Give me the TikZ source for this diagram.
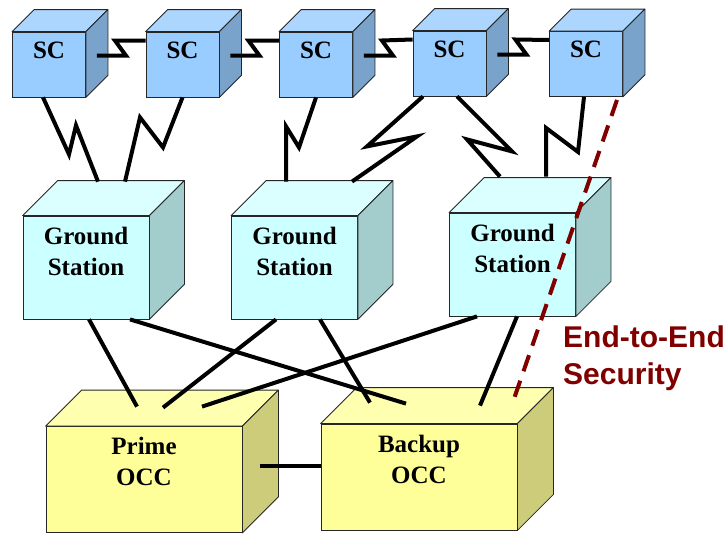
\documentclass[tikz,border=0pt]{standalone}
\usepackage{fontspec}
\setmainfont{Liberation Serif}
\newfontfamily\notefont{Liberation Sans}
\usetikzlibrary{calc}

\definecolor{scfront}{HTML}{99CCFF}
\definecolor{sctop}{HTML}{ADD6FF}
\definecolor{scside}{HTML}{7AA3CC}
\definecolor{gsfront}{HTML}{CCFFFF}
\definecolor{gstop}{HTML}{DBFFFF}
\definecolor{gsside}{HTML}{A3CCCC}
\definecolor{occfront}{HTML}{FFFF99}
\definecolor{occtop}{HTML}{FFFFB0}
\definecolor{occside}{HTML}{CCCC7A}
\definecolor{darkred}{HTML}{800000}

\begin{document}
\begin{tikzpicture}[x=1pt,y=-1pt,
    box/.style={draw=black!85, line width=0.8pt, inner sep=0pt},
    sc/.style={box, fill=scfront, minimum width=73pt, minimum height=65pt},
    gs/.style={box, fill=gsfront, minimum width=126pt, minimum height=103pt},
    occ/.style={box, fill=occfront, minimum width=196pt, minimum height=106pt},
    face/.style={draw=black!85, line width=0.8pt, line join=round},
    title/.style={font=\bfseries\fontsize{25}{31}\selectfont, align=center, inner sep=0pt},
    link/.style={line width=4pt},
    secure/.style={draw=darkred, line width=4pt, dash pattern=on 17pt off 10pt}]
  \useasboundingbox (0,0) rectangle (727,533);

  % front faces
  \node[sc] (sc1) at (49,64.5) {};
  \node[sc] (sc2) at (182.5,64.5) {};
  \node[sc] (sc3) at (316,64.5) {};
  \node[sc] (sc4) at (449.5,63.5) {};
  \node[sc] (sc5) at (586,64) {};
  \node[gs] (gs1) at (86,267.5) {};
  \node[gs] (gs2) at (294.5,267.5) {};
  \node[gs] (gs3) at (512.5,264.5) {};
  \node[occ] (prime) at (144,479.5) {};
  \node[occ] (backup) at (419,477) {};

  % top and side faces
  \foreach \n/\d/\t/\s in {sc1/22/sctop/scside, sc2/22/sctop/scside, sc3/22/sctop/scside,
      sc4/22/sctop/scside, sc5/22/sctop/scside, gs1/35/gstop/gsside, gs2/35/gstop/gsside,
      gs3/35/gstop/gsside, prime/36/occtop/occside, backup/36/occtop/occside} {
    \filldraw[face, fill=\t] (\n.north west) -- ++(\d,-\d) -- ($(\n.north east)+(\d,-\d)$)
      -- (\n.north east) -- cycle;
    \filldraw[face, fill=\s] (\n.north east) -- ++(\d,-\d) -- ($(\n.south east)+(\d,-\d)$)
      -- (\n.south east) -- cycle;
  }

  % names
  \foreach \n in {sc1,sc2,sc3,sc4,sc5}
    \node[title] (\n-t) at ($(\n.north)+(0,18.5)$) {SC};
  \foreach \n in {gs1,gs2,gs3}
    \node[title] (\n-t) at ($(\n.north)+(0,35.5)$) {Ground\\Station};
  \node[title] (prime-t) at ($(prime.north)+(0,35.5)$) {Prime\\OCC};
  \node[title] (backup-t) at ($(backup.north)+(0,36)$) {Backup\\OCC};

  % crosslinks between spacecraft
  \foreach \a/\b in {sc1/sc2, sc2/sc3, sc3/sc4, sc4/sc5}
    \draw[link] ($(\a.east)+(11,-9)$) -- ++(29,0) -- ++(-11,-15) -- ($(\b.west)+(0,-24)$);

  % space to ground links
  \draw[link] ($(sc1.south)+(-6,0)$) -- ++(26,57) -- ++(7,-29) -- ($(gs1.north)+(12,-34)$);
  \draw[link] (sc2.south) -- ++(-19.5,50) -- ++(-23,-30) -- ($(gs1.north)+(39,-34)$);
  \draw[link] (sc3.south) -- ++(-17,50) -- ++(-13,-21) -- ($(gs2.north)+(-8.5,-34)$);
  \draw[link] ($(sc4.south)+(-26.5,0)$) -- ++(-56,50) -- ++(50,-10) -- ($(gs2.north)+(57.5,-34)$);
  \draw[link] ($(sc4.south)+(7.5,0)$) -- ++(55,55) -- ++(-45,-12) -- ($(gs3.north)+(-12.5,-36)$);
  \draw[link] ($(sc5.south)+(-2,0)$) -- ++(-6,55) -- ++(-32,-24) -- ($(gs3.north)+(33.5,-36)$);

  % ground network
  \draw[link] ($(gs1.south)+(3,0)$) -- ($(prime.north)+(-7,-19.5)$);
  \draw[link] ($(gs1.south)+(44,0)$) -- ($(backup.north)+(-13,-20)$);
  \draw[link] ($(gs2.south)+(-18.5,0)$) -- ($(prime.north)+(19,-18.5)$);
  \draw[link] ($(gs2.south)+(25.5,0)$) -- ($(backup.north)+(-49,-21)$);
  \draw[link] ($(gs3.south)+(-35.5,0)$) -- ($(prime.north)+(58,-19.5)$);
  \draw[link] ($(gs3.south)+(4.5,0)$) -- ($(backup.north)+(61,-18)$);
  \draw[link] ($(prime.east)+(18,-13.5)$) -- ($(backup.west)+(0,-11)$);

  % end to end
  \draw[secure] ($(sc5.south)+(31,3)$) -- ($(backup.north)+(93,-19)$);
  \node[anchor=north west, align=left, inner sep=0pt, text=darkred,
    font=\notefont\bfseries\fontsize{30}{37}\selectfont] (e2e) at (563,326) {End-to-End\\Security};
\end{tikzpicture}
\end{document}
